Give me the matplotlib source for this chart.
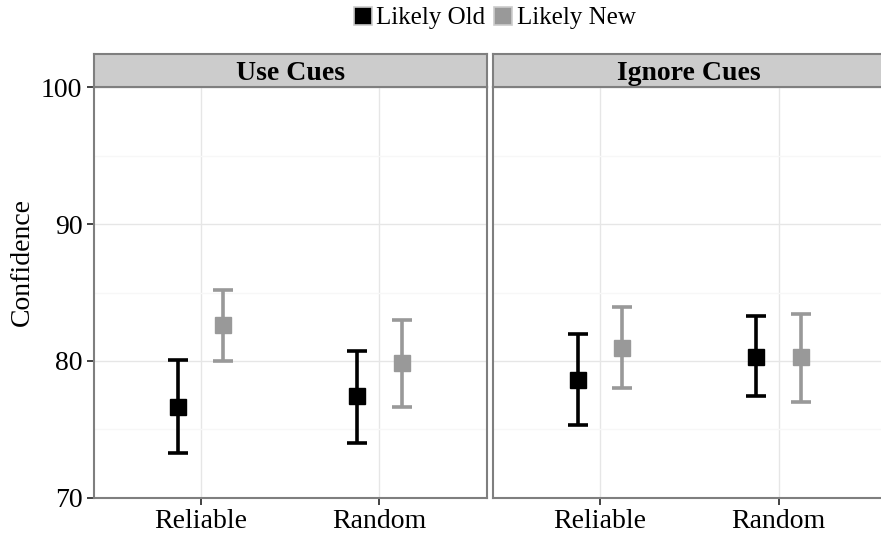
import matplotlib
matplotlib.use("Agg")
import matplotlib.pyplot as plt
from matplotlib.lines import Line2D
import numpy as np

plt.rcParams['font.family'] = ['Liberation Serif', 'DejaVu Serif']

facets = ["Use Cues", "Ignore Cues"]
categories = ["Reliable", "Random"]
series = ["Likely Old", "Likely New"]
colors = ["#000000", "#999999"]

# mean, lower, upper per facet -> series -> category
means = {
    "Use Cues": {"Likely Old": [76.6, 77.4], "Likely New": [82.6, 79.85]},
    "Ignore Cues": {"Likely Old": [78.6, 80.3], "Likely New": [80.95, 80.25]},
}
lowers = {
    "Use Cues": {"Likely Old": [73.3, 74.0], "Likely New": [80.0, 76.65]},
    "Ignore Cues": {"Likely Old": [75.3, 77.4], "Likely New": [78.0, 77.0]},
}
uppers = {
    "Use Cues": {"Likely Old": [80.05, 80.75], "Likely New": [85.15, 83.0]},
    "Ignore Cues": {"Likely Old": [82.0, 83.25], "Likely New": [83.95, 83.45]},
}
yticks = [70, 80, 90, 100]
yminor = [75, 85, 95]

W, H = 881, 539
fig = plt.figure(figsize=(W / 100, H / 100), dpi=100)

def fx(px):
    return px / W

def fy(py):
    return 1 - py / H

panel_left = [93.5, 492.7]
panel_w = 393
top, bottom = 87.3, 497.7
strip_top = 54.3
border = "#7F7F7F"
offsets = [-0.125, 0.125]
x = np.arange(1, len(categories) + 1)

for i, facet in enumerate(facets):
    ax = fig.add_axes([fx(panel_left[i]), fy(bottom), fx(panel_w), (bottom - top) / H])
    ax.set_xlim(0.4, len(categories) + 0.6)
    ax.set_ylim(70, 100)
    ax.set_yticks(yticks)
    ax.set_yticks(yminor, minor=True)
    ax.set_xticks(x)
    ax.set_xticklabels(categories, fontsize=20)
    ax.grid(True, which='major', color='#E6E6E6', lw=1.0, zorder=0)
    ax.grid(True, which='minor', axis='y', color='#F7F7F7', lw=1.0, zorder=0)
    ax.set_axisbelow(True)
    ax.tick_params(axis='both', which='major', length=5, width=1.3, color='#333333',
                   labelsize=20, pad=3)
    ax.tick_params(axis='y', which='minor', length=0)
    if i == 0:
        ax.set_yticklabels([str(t) for t in yticks])
    else:
        ax.tick_params(axis='y', which='both', left=False, labelleft=False)
    for sp in ax.spines.values():
        sp.set_color(border)
        sp.set_linewidth(1.5)
    for j, s in enumerate(series):
        m = np.array(means[facet][s])
        lo = np.array(lowers[facet][s])
        hi = np.array(uppers[facet][s])
        ax.errorbar(x + offsets[j], m, yerr=[m - lo, hi - m], fmt='s', color=colors[j],
                    ecolor=colors[j], elinewidth=2.6, capsize=7, capthick=2.6,
                    markersize=11.5, markeredgecolor=colors[j], zorder=3, clip_on=False)
    # strip
    sax = fig.add_axes([fx(panel_left[i]), fy(top), fx(panel_w), (top - strip_top) / H])
    sax.set_facecolor('#CCCCCC')
    sax.set_xticks([])
    sax.set_yticks([])
    for sp in sax.spines.values():
        sp.set_color(border)
        sp.set_linewidth(1.5)
    sax.text(0.5, 0.42, facet, transform=sax.transAxes, ha='center', va='center',
             fontsize=20, fontweight='bold')

fig.text(fx(22), fy(262), "Confidence", rotation=90, ha='center', va='center', fontsize=20)

handles = [Line2D([], [], marker='s', linestyle='none', markerfacecolor=c,
                  markeredgecolor='#CCCCCC', markeredgewidth=1.2, markersize=13.5)
           for c in colors]
fig.legend(handles, series, loc='center', bbox_to_anchor=(fx(494), fy(18)), ncol=2,
           frameon=False, fontsize=18, handlelength=0.8, handletextpad=0.15,
           columnspacing=0.3, borderpad=0)

fig.savefig("out.png", dpi=100)
